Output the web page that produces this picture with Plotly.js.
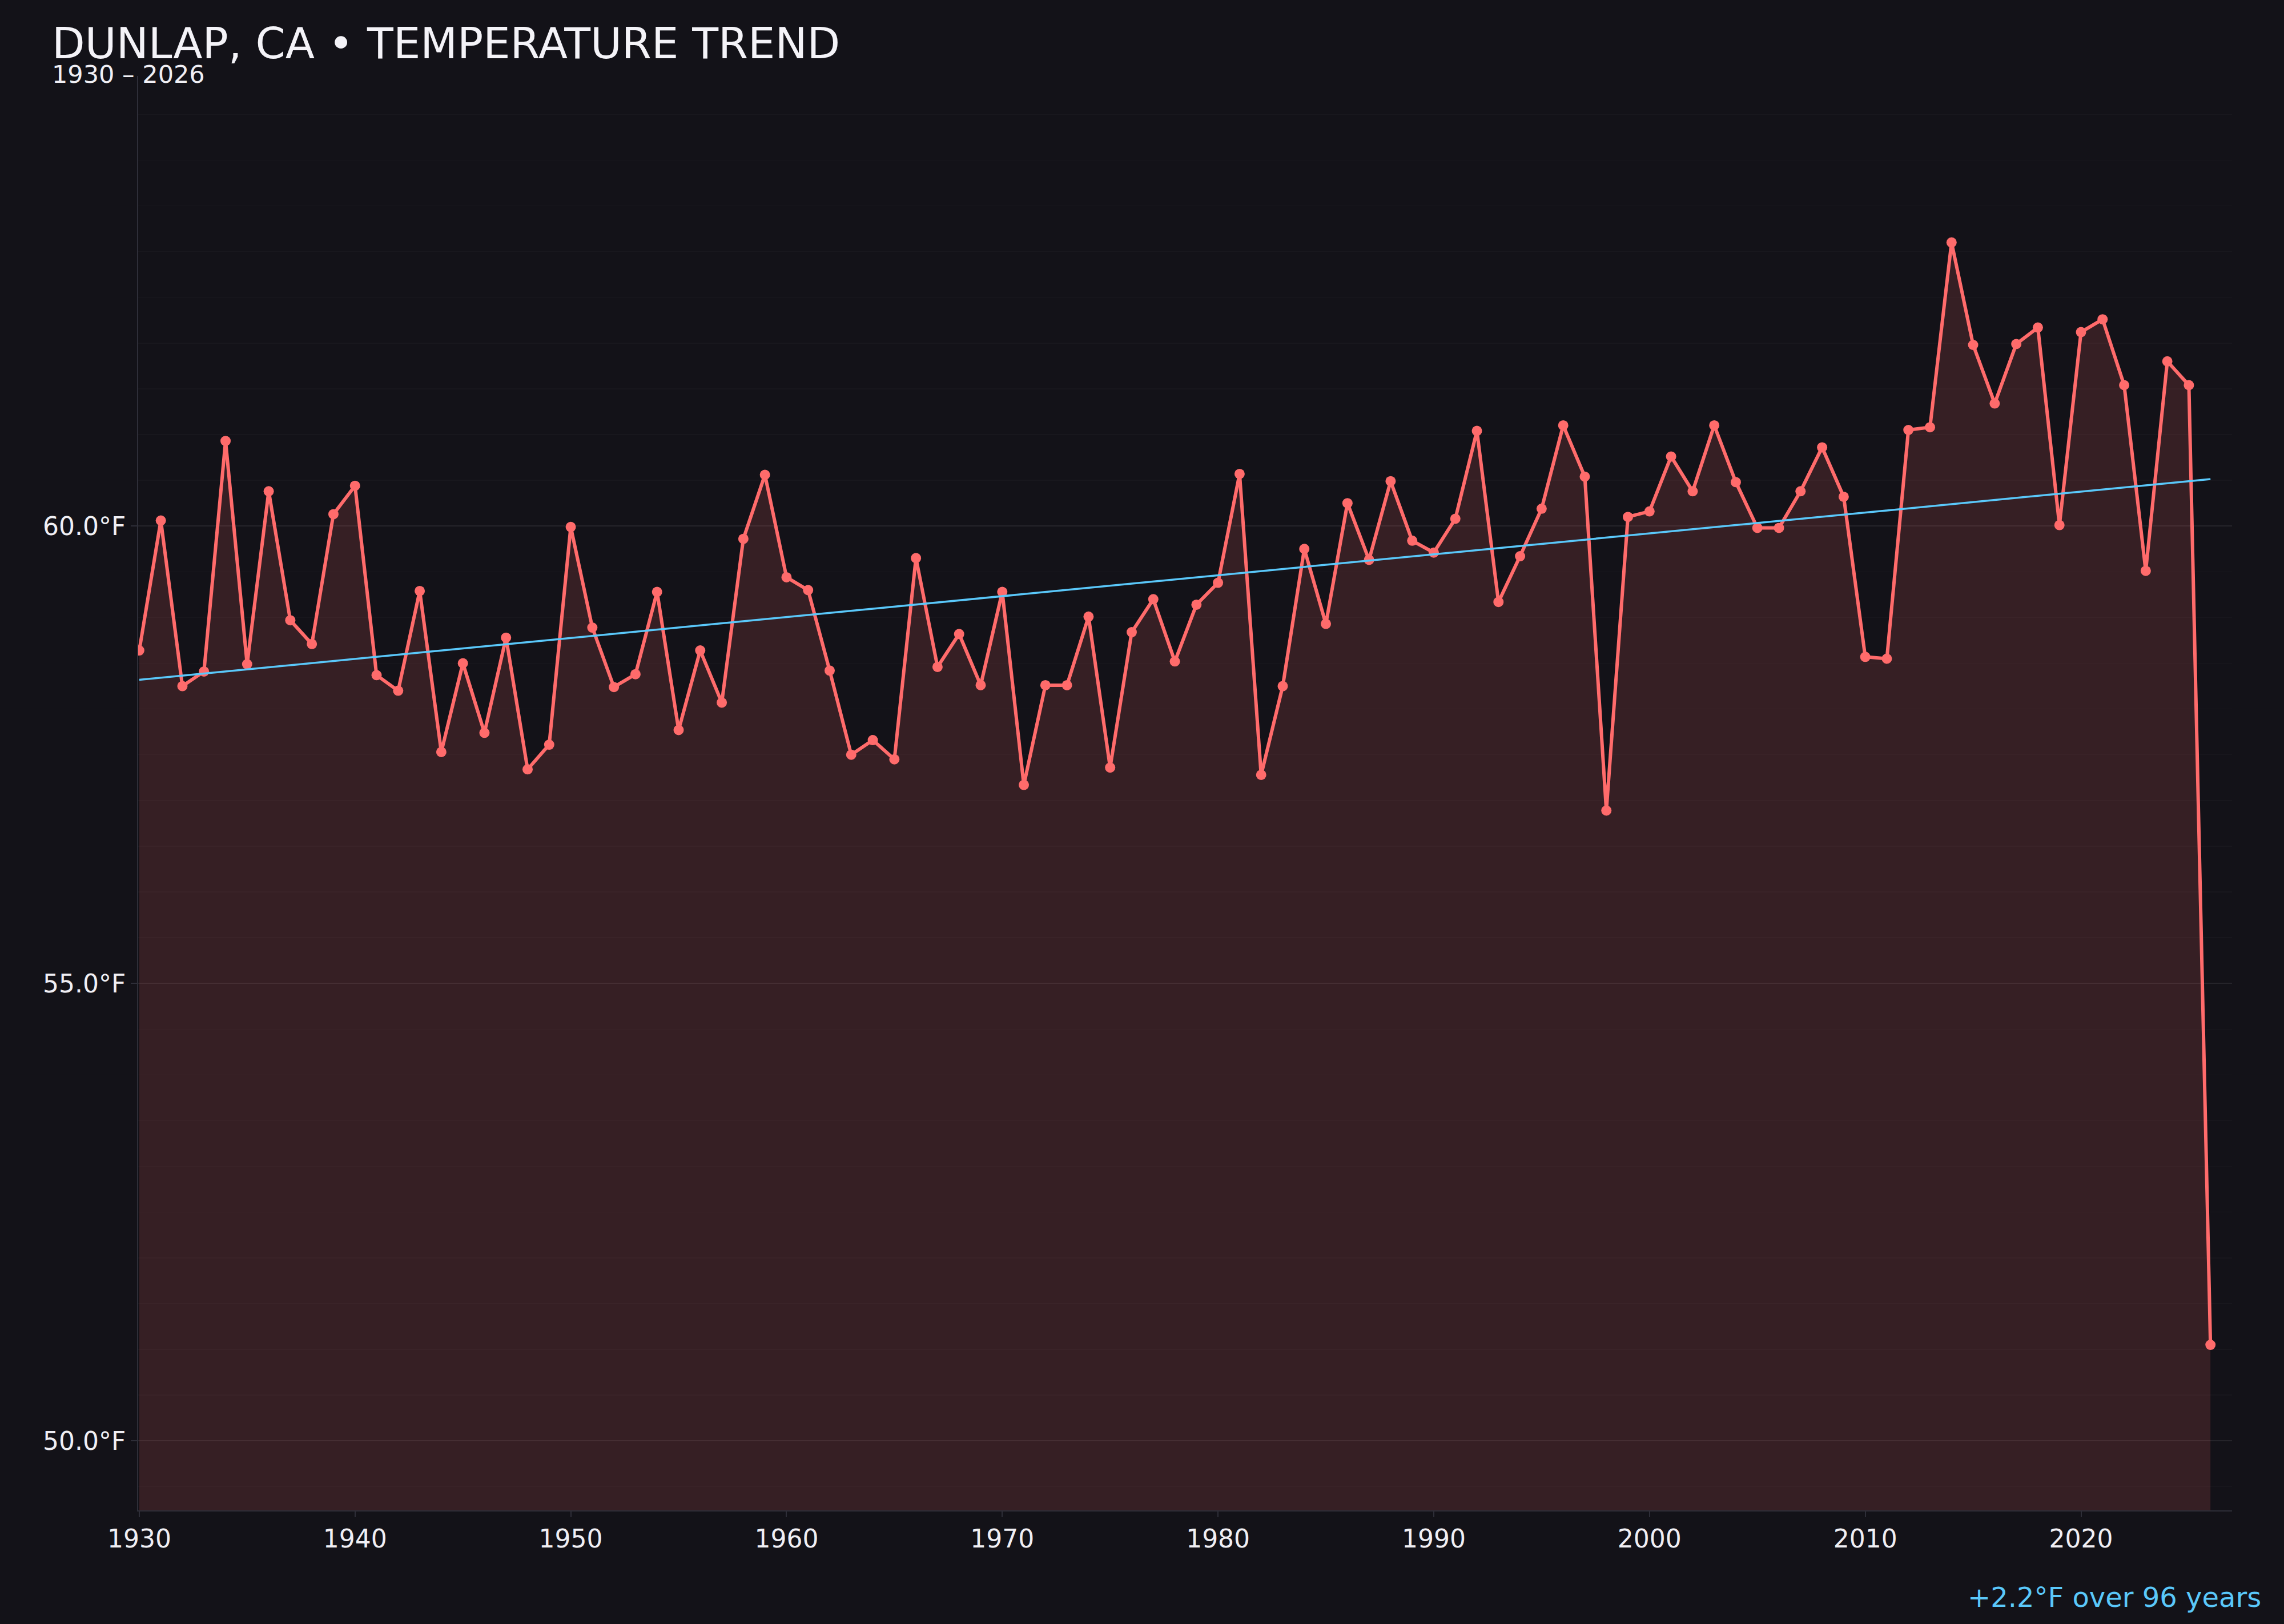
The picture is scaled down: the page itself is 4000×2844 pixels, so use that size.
<!DOCTYPE html>
<html>
<head>
<meta charset="utf-8">
<script src="https://cdn.plot.ly/plotly-3.0.1.min.js"></script>
<style>
    html, body { margin: 0; padding: 0; background: #131218; }
    #tempPlot { width: 4000px; height: 2844px; }
</style>
</head>
<body>
<div id="tempPlot"></div>
<script>
// Annual mean temperature, Dunlap CA
let years = [];
for (let y = 1930; y <= 2026; ++y) years.push(y);

let temps1930s = [58.64, 60.06, 58.25, 58.41, 60.93, 58.49, 60.38, 58.97, 58.71, 60.13];
let temps1940s = [60.44, 58.37, 58.20, 59.29, 57.53, 58.50, 57.74, 58.78, 57.34, 57.61];
let temps1950s = [59.99, 58.89, 58.24, 58.38, 59.28, 57.77, 58.64, 58.07, 59.86, 60.56];
let temps1960s = [59.44, 59.30, 58.42, 57.50, 57.66, 57.45, 59.65, 58.46, 58.82, 58.26];
let temps1970s = [59.28, 57.17, 58.26, 58.26, 59.01, 57.36, 58.84, 59.20, 58.52, 59.14];
let temps1980s = [59.38, 60.57, 57.28, 58.25, 59.75, 58.93, 60.25, 59.63, 60.49, 59.84];
let temps1990s = [59.71, 60.08, 61.04, 59.17, 59.67, 60.19, 61.10, 60.54, 56.89, 60.10];
let temps2000s = [60.16, 60.76, 60.38, 61.10, 60.48, 59.98, 59.98, 60.38, 60.86, 60.32];
let temps2010s = [58.57, 58.55, 61.05, 61.08, 63.10, 61.98, 61.34, 61.99, 62.17, 60.01];
let temps2020s = [62.12, 62.26, 61.54, 59.51, 61.80, 61.54, 51.05];

let temps = [].concat(temps1930s, temps1940s, temps1950s, temps1960s, temps1970s,
    temps1980s, temps1990s, temps2000s, temps2010s, temps2020s);

let titleText = 'DUNLAP, CA • TEMPERATURE TREND';
let subtitleText = years[0] + ' – ' + years[years.length - 1];

// least squares trend line
let n = years.length;
let mx = years.reduce((a, b) => a + b, 0) / n;
let my = temps.reduce((a, b) => a + b, 0) / n;
let sxy = 0, sxx = 0;
for (let i = 0; i < n; ++i) {
    sxy += (years[i] - mx) * (temps[i] - my);
    sxx += (years[i] - mx) * (years[i] - mx);
}
let slope = sxy / sxx;
let icpt = my - slope * mx;
let trendX = [years[0], years[n - 1]];
let trendY = trendX.map(x => icpt + slope * x);
let span = years[n - 1] - years[0];
let change = slope * span;
let trendText = (change >= 0 ? '+' : '') + change.toFixed(1) + '°F over ' + span + ' years';

let bg = '#131218';
let lineRed = '#ff6b6b';
let trendBlue = '#5ac8fa';

let data = [{ // observed series
    x: years,
    y: temps,
    mode: 'lines+markers',
    fill: 'tozeroy',
    fillcolor: 'rgba(255,107,107,0.15)',
    line: { color: lineRed, width: 6 },
    marker: { color: lineRed, size: 18 },
}, { // trend
    x: trendX,
    y: trendY,
    mode: 'lines',
    line: { color: trendBlue, width: 3.5 },
}];

let layout = {
    width: 4000,
    height: 2844,
    margin: { l: 242, r: 91, t: 133, b: 199, pad: 0 },
    paper_bgcolor: bg,
    plot_bgcolor: bg,
    showlegend: false,
    font: { family: 'DejaVu Sans, sans-serif', size: 44, color: '#f0eff4' },
    xaxis: {
        range: [1929.95, 2027],
        dtick: 10,
        tick0: 1930,
        showgrid: false,
        zeroline: false,
        showline: true,
        linecolor: '#2e2e38',
        linewidth: 2,
        ticks: 'outside',
        ticklen: 10,
        tickwidth: 2,
        tickcolor: '#2e2e38',
        tickfont: { size: 44, color: '#f0eff4' },
    },
    yaxis: {
        range: [49.24, 64.92],
        dtick: 5,
        tick0: 50,
        tickformat: '.1f',
        ticksuffix: '°F',
        showgrid: true,
        gridcolor: 'rgba(255,255,255,0.08)',
        gridwidth: 2,
        zeroline: false,
        showline: true,
        linecolor: '#2e2e38',
        linewidth: 2,
        ticks: 'outside',
        ticklen: 11,
        tickwidth: 2,
        tickcolor: '#2e2e38',
        tickfont: { size: 44, color: '#f0eff4' },
        minor: {
            dtick: 0.5,
            showgrid: true,
            gridcolor: 'rgba(255,255,255,0.022)',
            gridwidth: 1.5,
            ticks: '',
        },
    },
    annotations: [{ // title
        xref: 'paper', yref: 'paper',
        x: -0.0418, y: 1.0225,
        xanchor: 'left', yanchor: 'middle',
        showarrow: false,
        text: titleText,
        font: { size: 75, color: '#f4f3f8' },
    }, { // subtitle
        xref: 'paper', yref: 'paper',
        x: -0.0418, y: 1.0012,
        xanchor: 'left', yanchor: 'middle',
        showarrow: false,
        text: subtitleText,
        font: { size: 43, color: '#f0eff4' },
    }, { // trend note
        xref: 'paper', yref: 'paper',
        x: 1.0145, y: -0.0606,
        xanchor: 'right', yanchor: 'middle',
        showarrow: false,
        text: trendText,
        font: { size: 48, color: trendBlue },
    }],
};

let config = { staticPlot: true, displayModeBar: false };

Plotly.newPlot('tempPlot', data, layout, config);
</script>
</body>
</html>
